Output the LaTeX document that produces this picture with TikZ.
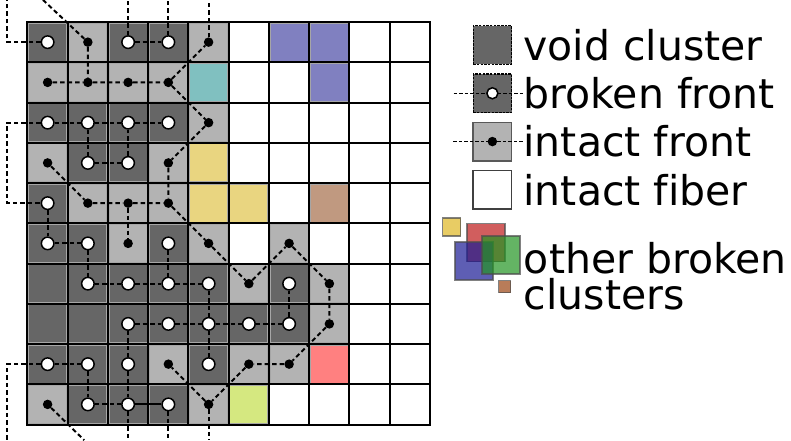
\documentclass[tikz,border=0pt]{standalone}
\usepackage{fontspec}
\setmainfont{DejaVu Sans}[Ligatures=NoCommon]
\usetikzlibrary{positioning}

\definecolor{voidgray}{RGB}{102,102,102}
\definecolor{frontgray}{RGB}{179,179,179}
\definecolor{colTeal}{RGB}{128,192,192}
\definecolor{colBlue}{RGB}{128,128,192}
\definecolor{colYellow}{RGB}{233,213,128}
\definecolor{colBrown}{RGB}{192,153,128}
\definecolor{colRed}{RGB}{255,128,128}
\definecolor{colLime}{RGB}{213,232,128}
\definecolor{legYellow}{RGB}{222,183,34}
\definecolor{legRed}{RGB}{190,26,26}
\definecolor{legBlue}{RGB}{26,26,148}
\definecolor{legGreen}{RGB}{34,148,34}
\definecolor{legBrown}{RGB}{155,69,19}

\begin{document}
\begin{tikzpicture}[
  x=40.25pt, y=40.25pt,
  cell/.style={rectangle, minimum size=38pt, inner sep=0pt, draw=black!35, line width=0.8pt},
  void/.style={cell, fill=voidgray},
  brk/.style={cell, fill=voidgray},
  intf/.style={cell, fill=frontgray},
  fib/.style={cell, fill=white, draw=none},
  clT/.style={cell, fill=colTeal},
  clU/.style={cell, fill=colBlue},
  clY/.style={cell, fill=colYellow},
  clN/.style={cell, fill=colBrown},
  clR/.style={cell, fill=colRed},
  clL/.style={cell, fill=colLime},
  brkmark/.style={circle, fill=white, draw=black, line width=1.5pt, minimum size=12.5pt, inner sep=0pt},
  intmark/.style={circle, fill=black, minimum size=9.5pt, inner sep=0pt},
  link/.style={dash pattern=on 4.5pt off 3pt, line width=2pt},
  solidlink/.style={line width=2pt},
  leglink/.style={dash pattern=on 3.5pt off 2pt, line width=1.4pt},
  legbox/.style={rectangle, minimum size=38.5pt, inner sep=0pt, line width=1.2pt},
  legtext/.style={font=\fontsize{41}{35}\selectfont, inner sep=0pt},
  clsq/.style={rectangle, inner sep=0pt, draw=black!70, line width=1.5pt, fill opacity=.7, draw opacity=.7}
]
  \useasboundingbox (-0.683,0.547) rectangle (18.969,-10.385);

  % cells, row by row
  \foreach \r/\row in {
    1/{brk,intf,brk,brk,intf,fib,clU,clU,fib,fib},
    2/{intf,intf,intf,intf,clT,fib,fib,clU,fib,fib},
    3/{brk,brk,brk,brk,intf,fib,fib,fib,fib,fib},
    4/{intf,brk,brk,intf,clY,fib,fib,fib,fib,fib},
    5/{brk,intf,intf,intf,clY,clY,fib,clN,fib,fib},
    6/{brk,brk,intf,brk,intf,fib,intf,fib,fib,fib},
    7/{void,brk,brk,brk,brk,intf,brk,intf,fib,fib},
    8/{void,void,brk,brk,brk,brk,brk,intf,fib,fib},
    9/{brk,brk,brk,intf,brk,intf,intf,clR,fib,fib},
    10/{intf,brk,brk,brk,intf,clL,fib,fib,fib,fib}}
    \foreach \t [count=\c] in \row
      \node[\t] (c-\r-\c) at (\c-0.5,0.5-\r) {};

  % grid
  \foreach \i in {0,...,10} {
    \draw[line width=2pt, line cap=rect] (\i,0) -- (\i,-10);
    \draw[line width=2pt, line cap=rect] (0,-\i) -- (10,-\i);
  }

  % fronts
  \foreach \r/\c in {1/1,1/3,1/4,3/1,3/2,3/3,3/4,4/2,4/3,5/1,6/1,6/2,6/4,7/2,7/3,7/4,7/5,7/7,
                     8/3,8/4,8/5,8/6,8/7,9/1,9/2,9/3,9/5,10/2,10/3,10/4}
    \node[brkmark] (m-\r-\c) at (c-\r-\c) {};
  \foreach \r/\c in {1/2,1/5,2/1,2/2,2/3,2/4,3/5,4/1,4/4,5/2,5/3,5/4,6/3,6/5,6/7,7/6,7/8,8/8,
                     9/4,9/6,9/7,10/1,10/5}
    \node[intmark] (m-\r-\c) at (c-\r-\c) {};

  % loose ends outside the grid
  \coordinate (top-l) at (-0.51,0.55);
  \coordinate (top-d) at (0.385,0.55);
  \coordinate (left-mid) at (-0.51,-4.5);
  \coordinate (bot-l) at (-0.51,-10.39);
  \coordinate (bot-1) at (1.41,-10.39);
  \foreach \c in {3,4,5} {
    \coordinate (top-\c) at (\c-0.5,0.55);
    \coordinate (bot-\c) at (\c-0.5,-10.39);
  }

  % connections
  \draw[link] (m-1-1) -| (top-l);
  \draw[link] (top-d) -- (m-1-2) -- (m-2-2);
  \draw[link] (m-1-3) -- (top-3);
  \draw[link] (m-1-4) -- (top-4);
  \draw[link] (m-1-5) -- (top-5);
  \draw[link] (m-1-3) -- (m-1-4);
  \draw[link] (m-2-1) -- (m-2-2) -- (m-2-3) -- (m-2-4) -- (m-1-5);
  \draw[link] (m-2-4) -- (m-3-5) -- (m-4-4) -- (m-5-4);
  \draw[link] (m-3-1) -- (m-3-2) -- (m-3-3) -- (m-3-4);
  \draw[link] (m-3-2) -- (m-4-2) -- (m-4-3) -- (m-3-3);
  \draw[link] (m-3-1) -| (left-mid) -- (m-5-1);
  \draw[link] (m-4-1) -- (m-5-2) -- (m-5-3) -- (m-5-4) -- (m-6-5) -- (m-7-6) -- (m-6-7)
    -- (m-7-8) -- (m-8-8) -- (m-9-7) -- (m-9-6) -- (m-10-5) -- (m-9-4);
  \draw[link] (m-5-3) -- (m-6-3);
  \draw[link] (m-5-1) -- (m-6-1) -- (m-6-2) -- (m-7-2) -- (m-7-3) -- (m-7-4) -- (m-7-5)
    -- (m-8-5) -- (m-9-5);
  \draw[link] (m-6-4) -- (m-7-4);
  \draw[link] (m-8-3) -- (m-8-4) -- (m-8-5) -- (m-8-6) -- (m-8-7) -- (m-7-7);
  \draw[link] (m-8-3) -- (m-9-3) -- (m-10-3) -- (bot-3);
  \draw[link] (m-9-1) -- (m-9-2) -- (m-10-2) -- (m-10-3);
  \draw[solidlink] (m-10-3) -- (m-10-4);
  \draw[link] (m-10-4) -- (bot-4);
  \draw[link] (m-9-1) -| (bot-l);
  \draw[link] (m-10-1) -- (bot-1);
  \draw[link] (m-10-5) -- (bot-5);

  % legend
  \node[legbox, fill=voidgray, draw=black, dash pattern=on 2.5pt off 1.2pt] (leg-void) at (11.55,-0.57) {};
  \node[legbox, fill=voidgray, draw=black, dash pattern=on 2.5pt off 1.2pt] (leg-brk) at (11.55,-1.77) {};
  \node[legbox, fill=frontgray, draw=black!65, line width=1.5pt] (leg-int) at (11.55,-2.97) {};
  \node[legbox, fill=white, draw=black!75, line width=1.5pt] (leg-fib) at (11.55,-4.17) {};
  \node[legtext, right=11pt of leg-void] (txt-void) {void cluster};
  \node[legtext, right=11pt of leg-brk] (txt-brk) {broken front};
  \node[legtext, right=11pt of leg-int] (txt-int) {intact front};
  \node[legtext, right=11pt of leg-fib] (txt-fib) {intact fiber};
  \draw[leglink] ([xshift=-19pt]leg-brk.west) -- (txt-brk.west |- leg-brk.center);
  \draw[leglink] ([xshift=-19pt]leg-int.west) -- (txt-int.west |- leg-int.center);
  \node[brkmark, minimum size=11pt] (leg-brk-m) at (leg-brk) {};
  \node[intmark] (leg-int-m) at (leg-int) {};

  \node[clsq, minimum size=18pt, fill=legYellow] (sq-y) at (10.539,-5.093) {};
  \node[clsq, minimum size=38pt, fill=legRed] (sq-r) at (11.387,-5.478) {};
  \node[clsq, minimum size=38pt, fill=legBlue] (sq-b) at (11.098,-5.933) {};
  \node[clsq, minimum size=38pt, fill=legGreen] (sq-g) at (11.769,-5.793) {};
  \node[clsq, minimum size=12pt, fill=legBrown] (sq-n) at (11.851,-6.576) {};
  \node[legtext, anchor=base west] (txt-cl) at (12.33,-6.236) {other broken};
  \node[legtext, anchor=base west] (txt-cl2) at (12.33,-7.14) {clusters};
\end{tikzpicture}
\end{document}
